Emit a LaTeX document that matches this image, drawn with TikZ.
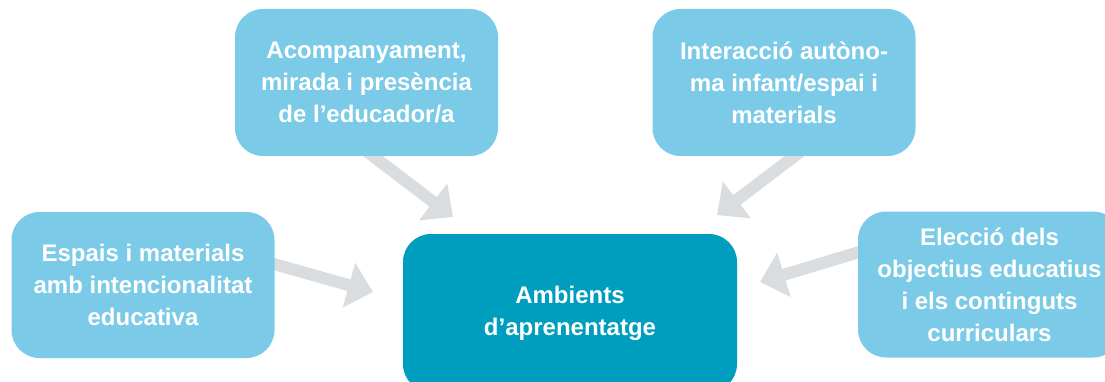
\documentclass[tikz,border=0pt]{standalone}
\usepackage{fontspec}
\setmainfont{Liberation Sans}
\usetikzlibrary{arrows.meta,calc}
\definecolor{boxlight}{RGB}{123,203,232}
\definecolor{boxdark}{RGB}{0,158,190}
\definecolor{arrowgray}{RGB}{218,221,224}
\pgfdeclarelayer{bg}
\pgfsetlayers{bg,main}
\begin{document}
\begin{tikzpicture}[x=1pt,y=-1pt,
  outer/.style={fill=boxlight, rounded corners=28pt, inner sep=0pt,
    minimum width=263pt, minimum height=147pt, align=center, text=white,
    font=\bfseries\fontsize{24}{32}\selectfont},
  core/.style={outer, fill=boxdark, minimum width=334pt, minimum height=158pt},
  flow/.style={draw=arrowgray, line width=12pt,
    -{Triangle[width=45pt,length=25pt]}}]
\useasboundingbox (0,0) rectangle (1105,382);
\node[outer] (acomp) at (366.5,82.5) {Acompanyament,\\mirada i presència\\de l’educador/a};
\node[outer] (inter) at (784,82.5) {Interacció autòno-\\ma infant/espai i\\materials};
\node[outer, minimum height=146pt] (espais) at (143,285) {Espais i materials\\amb intencionalitat\\educativa};
\node[outer, minimum height=146pt] (eleccio) at (989.5,284.5) {Elecció dels\\objectius educatius\\i els continguts\\curriculars};
\node[core] (amb) at (570,313) {Ambients\\d’aprenentatge};
\coordinate (tipA) at (453,217);
\coordinate (tipB) at (373,292);
\coordinate (tipC) at (717,215);
\coordinate (tipD) at (760,282);
\begin{pgfonlayer}{bg}
\draw[flow] ($(acomp.south)+(0,-5)$) -- (tipA);
\draw[flow] ($(espais.east)+(-8,-23)$) -- (tipB);
\draw[flow] ($(inter.south)+(17,-5)$) -- (tipC);
\draw[flow] ($(eleccio.west)+(8,-34.5)$) -- (tipD);
\end{pgfonlayer}
\end{tikzpicture}
\end{document}
